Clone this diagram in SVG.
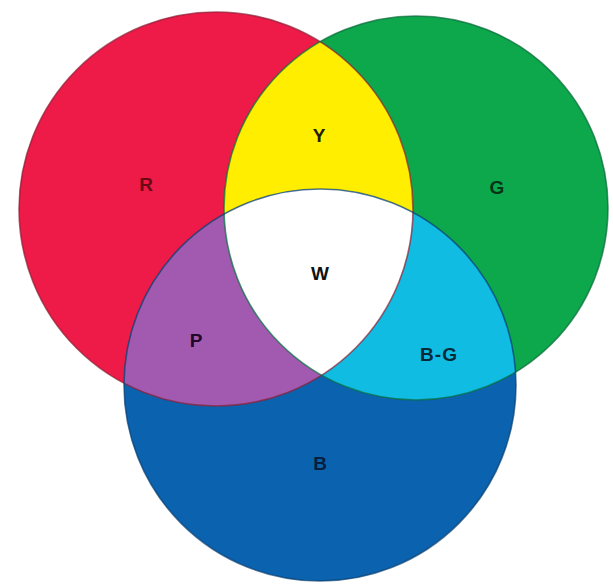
<svg xmlns="http://www.w3.org/2000/svg" width="613" height="587" viewBox="0 0 613 587">
  <style>
    .lbl { font-family: "Liberation Sans", Arial, sans-serif; font-weight: bold; font-size: 19px; text-anchor: middle; dominant-baseline: central; }
    .edge { fill: none; stroke-width: 1.6; }
  </style>
  <defs>
    <circle id="cR" cx="216" cy="209" r="197"/>
    <circle id="cG" cx="416" cy="208" r="192"/>
    <circle id="cB" cx="320" cy="385" r="196"/>
    <clipPath id="clipR"><use href="#cR"/></clipPath>
    <clipPath id="clipG"><use href="#cG"/></clipPath>
    <clipPath id="clipB"><use href="#cB"/></clipPath>
  </defs>
  <rect width="613" height="587" fill="#ffffff"/>

  <g id="red">
    <use href="#cR" fill="#EE1A48"/>
    <text class="lbl" x="146" y="184" fill="#6a0818">R</text>
  </g>
  <g id="green">
    <use href="#cG" fill="#0DA84C"/>
    <text class="lbl" x="497" y="187" fill="#053318">G</text>
  </g>
  <g id="blue">
    <use href="#cB" fill="#0B63B0"/>
    <text class="lbl" x="320" y="463" fill="#061f40">B</text>
  </g>
  <g id="yellow">
    <g clip-path="url(#clipR)"><use href="#cG" fill="#FFEE00"/></g>
    <text class="lbl" x="319" y="135" fill="#221c00">Y</text>
  </g>
  <g id="purple">
    <g clip-path="url(#clipR)"><use href="#cB" fill="#A15AB0"/></g>
    <text class="lbl" x="196" y="340" fill="#220828">P</text>
  </g>
  <g id="blue-green">
    <g clip-path="url(#clipG)"><use href="#cB" fill="#10BCE2"/></g>
    <text class="lbl" x="439" y="354" fill="#062a38" letter-spacing="1">B-G</text>
  </g>
  <g id="white">
    <g clip-path="url(#clipR)"><g clip-path="url(#clipG)"><use href="#cB" fill="#FFFFFF"/></g></g>
    <text class="lbl" x="320" y="273" fill="#111111">W</text>
  </g>

  <g id="connectors">
    <use href="#cR" class="edge" stroke="#8a2035" stroke-opacity="0.7"/>
    <use href="#cG" class="edge" stroke="#0a6a3a" stroke-opacity="0.7"/>
    <use href="#cB" class="edge" stroke="#0a3e70" stroke-opacity="0.7"/>
  </g>
</svg>
